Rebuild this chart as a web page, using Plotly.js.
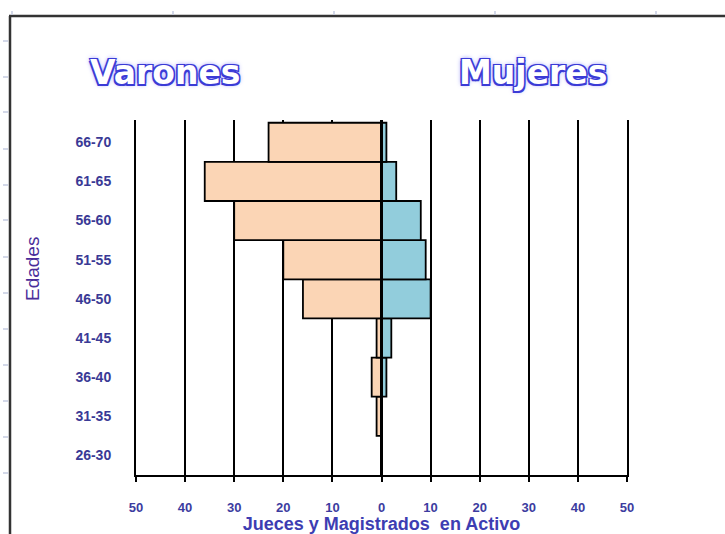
<!DOCTYPE html>
<html><head><meta charset="utf-8">
<script src="https://cdn.plot.ly/plotly-3.0.1.min.js"></script>
<style>html,body{margin:0;padding:0;background:#fff}</style>
</head><body>
<div id="chart" style="width:725px;height:534px"></div>
<script>
const edades = ["26-30","31-35","36-40","41-45","46-50","51-55","56-60","61-65","66-70"];
const varones = [0, 1, 2, 1, 16, 20, 30, 36, 23];
const mujeres = [0, 0, 1, 2, 10, 9, 8, 3, 1];
const xTickVals = [-50, -40, -30, -20, -10, 0, 10, 20, 30, 40, 50];
const xTickText = ["50", "40", "30", "20", "10", "0", "10", "20", "30", "40", "50"];

const W = 725, H = 534;
const M = {l: 136, r: 98, t: 120, b: 59};
const pw = W - M.l - M.r, ph = H - M.t - M.b;
const px = x => (x - M.l) / pw;           // pixel -> paper x
const py = y => (H - M.b - y) / ph;       // pixel -> paper y

const traces = [
  {
    type: 'bar', orientation: 'h', name: 'Varones',
    y: edades, x: varones.map(v => -v), customdata: varones,
    hovertemplate: '%{y}: %{customdata}<extra>Varones</extra>',
    marker: {color: '#FBD5B5', line: {color: '#000', width: 1.8}}
  },
  {
    type: 'bar', orientation: 'h', name: 'Mujeres',
    y: edades, x: mujeres,
    hovertemplate: '%{y}: %{x}<extra>Mujeres</extra>',
    marker: {color: '#92CDDC', line: {color: '#000', width: 1.8}}
  }
];

const outline = '-1.5px -1.5px 0 #3b3bd6, 1.5px -1.5px 0 #3b3bd6, -1.5px 1.5px 0 #3b3bd6, 1.5px 1.5px 0 #3b3bd6, 0 0 5px #5b5bff';

// decorative sheet frame and faint sheet ticks
const shapes = [
  {type: 'line', xref: 'paper', yref: 'paper', x0: px(10), x1: px(10), y0: py(16), y1: py(534),
   line: {color: '#333', width: 2.5}},
  {type: 'line', xref: 'paper', yref: 'paper', x0: px(9), x1: px(725), y0: py(16), y1: py(16),
   line: {color: '#333', width: 2.5}},
  // thick zero line drawn over the bars
  {type: 'line', xref: 'x', yref: 'paper', x0: 0, x1: 0, y0: 0, y1: py(121), layer: 'above',
   line: {color: '#000', width: 3}}
];
[41, 77, 112, 149, 185, 220, 257, 293, 329, 365, 401, 437, 473].forEach(y => shapes.push(
  {type: 'line', xref: 'paper', yref: 'paper', x0: px(3), x1: px(8), y0: py(y), y1: py(y),
   line: {color: '#c5cbe0', width: 1.5}}));
[12, 173, 334, 495, 656].forEach(x => shapes.push(
  {type: 'line', xref: 'paper', yref: 'paper', x0: px(x), x1: px(x), y0: py(11), y1: py(15),
   line: {color: '#c5cbe0', width: 1.5}}));

const layout = {
  width: W, height: H,
  margin: M,
  paper_bgcolor: '#fff', plot_bgcolor: '#fff',
  showlegend: false,
  barmode: 'relative', bargap: 0,
  xaxis: {
    range: [-50, 50], fixedrange: true,
    tickmode: 'array', tickvals: xTickVals, ticktext: xTickText,
    showgrid: true, gridcolor: '#000', gridwidth: 2,
    zeroline: true, zerolinecolor: '#000', zerolinewidth: 3,
    showline: true, linecolor: '#000', linewidth: 2,
    ticks: 'outside', ticklen: 5, tickwidth: 2, tickcolor: '#000',
    ticklabelstandoff: 14,
    tickfont: {family: 'Liberation Sans, Arial, sans-serif', size: 13, color: '#3c3ca0', weight: 'bold'},
    title: {text: 'Jueces y Magistrados  en Activo', standoff: 0,
            font: {family: 'Liberation Sans, Arial, sans-serif', size: 18, color: '#3d3db2', weight: 'bold'}}
  },
  yaxis: {
    type: 'category', categoryorder: 'array', categoryarray: edades,
    range: [-0.5, 8.57], fixedrange: true,
    showgrid: false, zeroline: false,
    showline: true, mirror: true, linecolor: '#000', linewidth: 2,
    ticks: '', ticklabelstandoff: 20,
    tickfont: {family: 'Liberation Sans, Arial, sans-serif', size: 14, color: '#3a3a96', weight: 'bold'}
  },
  annotations: [
    {text: 'Varones', xref: 'paper', yref: 'paper', x: px(165), y: py(73),
     xanchor: 'center', yanchor: 'middle', showarrow: false,
     font: {family: 'DejaVu Sans, sans-serif', size: 33, weight: 'bold', color: '#ffffff', shadow: outline}},
    {text: 'Mujeres', xref: 'paper', yref: 'paper', x: px(533), y: py(73),
     xanchor: 'center', yanchor: 'middle', showarrow: false,
     font: {family: 'DejaVu Sans, sans-serif', size: 33, weight: 'bold', color: '#ffffff', shadow: outline}},
    {text: 'Edades', xref: 'paper', yref: 'paper', x: px(32), y: py(269), textangle: -90,
     xanchor: 'center', yanchor: 'middle', showarrow: false,
     font: {family: 'Liberation Sans, Arial, sans-serif', size: 19, color: '#4a2d9a'}}
  ],
  shapes: shapes
};

Plotly.newPlot('chart', traces, layout, {displayModeBar: false, staticPlot: true});
</script>
</body></html>
